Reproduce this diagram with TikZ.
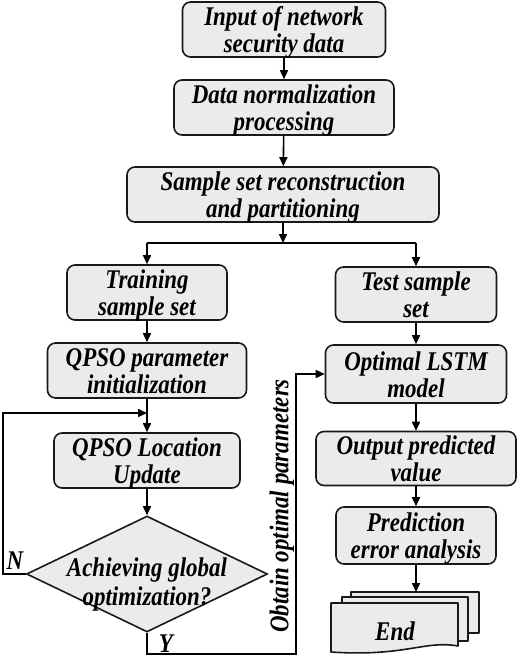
\documentclass[tikz,border=0pt]{standalone}
\usepackage{fontspec}
\setmainfont{Liberation Serif}[FakeStretch=0.85]
\usetikzlibrary{shapes.geometric,arrows.meta}

\tikzset{
  flowbox/.style={draw=black!90, fill=black!8, line width=1.6pt, rounded corners=8pt,
    inner sep=0pt, align=center, text height=50pt, text depth=4pt,
    font=\bfseries\itshape\fontsize{27}{27}\selectfont},
  decision/.style={diamond, draw=black!90, fill=black!8, line width=1.6pt, inner sep=0pt},
  doc/.style={draw=black!90, fill=black!8, line width=1.6pt, line join=round},
  lbl/.style={font=\bfseries\itshape\fontsize{27}{29}\selectfont, align=center, inner sep=0pt},
  arr/.style={line width=1.6pt, -{Triangle[length=9pt,width=8pt]}},
}

\begin{document}
\begin{tikzpicture}[x=1pt,y=-1pt]

		\useasboundingbox (0,0) rectangle (519,659);

		%Top of the flow
		\node[flowbox, minimum width=203pt, minimum height=55pt] (input) at (284,29.5) {Input of network\\security data};
		\node[flowbox, minimum width=220pt, minimum height=55pt] (norm) at (284,107.5) {Data normalization\\processing};
		\node[flowbox, minimum width=312pt, minimum height=55pt] (recon) at (283,194.5) {Sample set reconstruction\\and partitioning};

		%QPSO branch
		\node[flowbox, minimum width=160pt, minimum height=55pt] (train) at (147,292.5) {Training\\sample set};
		\node[flowbox, minimum width=199pt, minimum height=55pt] (init) at (147,370.5) {QPSO parameter\\initialization};
		\node[flowbox, minimum width=186pt, minimum height=55pt] (loc) at (147,460.5) {QPSO Location\\Update};
		\node[decision, minimum width=241pt, minimum height=116pt] (dec) at (147,574) {};
		\node[lbl] (declbl) at (147,584) {Achieving global\\optimization?};

		%LSTM branch
		\node[flowbox, minimum width=161pt, minimum height=55pt] (test) at (416,294.5) {Test sample\\set};
		\node[flowbox, minimum width=181pt, minimum height=58pt] (lstm) at (416,374) {Optimal LSTM\\model};
		\node[flowbox, minimum width=200pt, minimum height=53pt] (out) at (416,458.5) {Output predicted\\value};
		\node[flowbox, minimum width=160pt, minimum height=57pt] (err) at (416,535.5) {Prediction\\error analysis};

		%End document stack
		\draw[doc] (351,592) -- (479,592) -- (479,633) -- (351,633) -- cycle;
		\draw[doc] (342,597) -- (468,597) -- (468,641) -- (342,641) -- cycle;
		\draw[doc] (331,603) -- (458,603) -- (458,646) .. controls (425,640) and (405,657) .. (331,652) -- cycle;
		\node[lbl] (end) at (395,631) {End};
		\coordinate (endtop) at (416,592);

		%Arrows
		\draw[arr] (input) -- (norm);
		\draw[arr] (norm) -- (recon);
		\coordinate (split) at (283,243);
		\draw[arr] (recon) -- (split);
		\draw[line width=1.6pt] (train |- split) -- (test |- split);
		\draw[arr] (train |- split) -- (train);
		\draw[arr] (test |- split) -- (test);
		\draw[arr] (train) -- (init);
		\draw[arr] (init) -- (loc);
		\draw[arr] (loc) -- (dec);
		\draw[arr] (test) -- (lstm);
		\draw[arr] (lstm) -- (out);
		\draw[arr] (out) -- (err);
		\draw[arr] (err) -- (endtop);

		%N loop back
		\coordinate (nback) at (3,413);
		\draw[arr] (dec.west) -- (nback |- dec.west) -- (nback) -- (nback -| loc);
		\node[lbl] (nlbl) at (15,561) {N};

		%Y to optimal model
		\coordinate (ybot) at (296,654);
		\draw[arr] (dec.south) -- (dec.south |- ybot) -- (ybot) -- (ybot |- lstm) -- (lstm.west);
		\node[lbl] (ylbl) at (166,644) {Y};
		\node[lbl, rotate=90] (optlbl) at (282,506) {Obtain optimal parameters};

	\end{tikzpicture}
\end{document}
